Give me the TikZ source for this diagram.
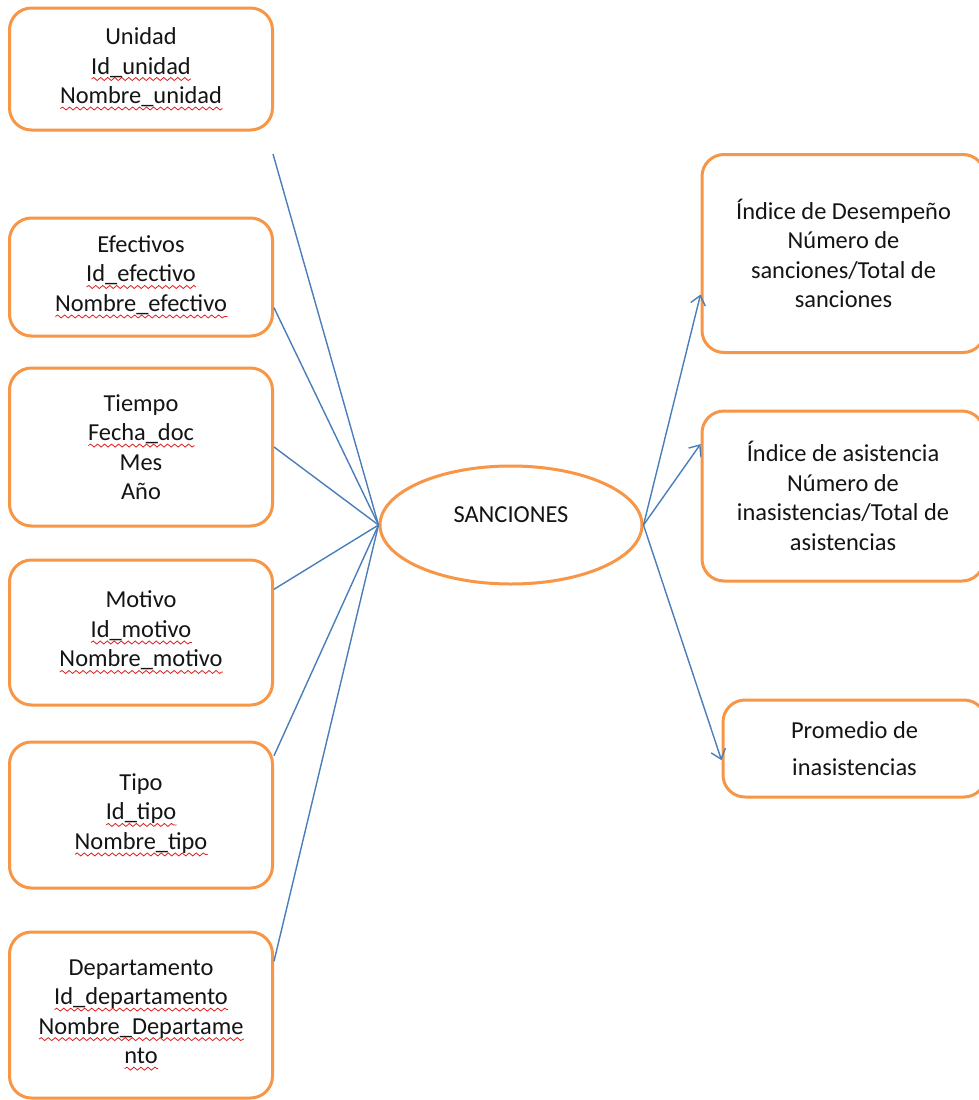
\documentclass[tikz,border=0pt]{standalone}
\usepackage{fontspec}
\setmainfont{Carlito}
\usetikzlibrary{shapes.geometric,arrows.meta,calc,decorations.pathmorphing}
\definecolor{borange}{HTML}{F79646}
\definecolor{lblue}{HTML}{4A7EBB}
\definecolor{sqred}{HTML}{E02020}
\newlength\sqw
\newcommand\sq[1]{\settowidth\sqw{#1}\rlap{\tikz[baseline=0pt]\draw[sqred,line width=0.8pt,sharp corners,decorate,decoration={snake,amplitude=1.5pt,segment length=7pt}] (0pt,-5pt) -- (\sqw,-5pt);}#1}
\begin{document}
\begin{tikzpicture}[x=1pt,y=-1pt,
  box/.style={draw=borange, line width=3pt, rounded corners=22pt, inner sep=0pt, align=center,
    font=\fontsize{24.4}{29.5}\selectfont, text=black!92},
  link/.style={draw=lblue, line width=1.4pt},
  arr/.style={link, -{Straight Barb[length=9pt,width=15pt]}}]
\useasboundingbox (0,0) rectangle (979,1100);
\clip (0,0) rectangle (979,1100);
\fill[white] (0,0) rectangle (979,1100);

% left boxes
\node[box, minimum width=263pt, minimum height=122pt] (un) at (141,69)
  {Unidad\\\sq{Id\_unidad}\\\sq{Nombre\_unidad}};
\node[box, minimum width=263pt, minimum height=118pt] (ef) at (141,277)
  {Efectivos\\\sq{Id\_efectivo}\\\sq{Nombre\_efectivo}};
\node[box, minimum width=263pt, minimum height=158pt] (ti) at (141,447)
  {Tiempo\\\sq{Fecha\_doc}\\Mes\\Año};
\node[box, minimum width=263pt, minimum height=145pt] (mo) at (141,632.5)
  {Motivo\\\sq{Id\_motivo}\\\sq{Nombre\_motivo}};
\node[box, minimum width=263pt, minimum height=146pt] (tp) at (141,815)
  {Tipo\\\sq{Id\_tipo}\\\sq{Nombre\_tipo}};
\node[box, minimum width=263pt, minimum height=166pt] (de) at (141,1015)
  {Departamento\\\sq{Id\_departamento}\\\sq{Nombre\_Departame}\\\sq{nto}};

% right boxes
\node[box, minimum width=283pt, minimum height=198pt] (d1) at (843.5,253.5)
  {Índice de Desempeño\\Número de\\sanciones/Total de\\sanciones};
\node[box, minimum width=282pt, minimum height=170pt] (d2) at (843,496)
  {Índice de asistencia\\Número de\\inasistencias/Total de\\asistencias};
\node[box, minimum width=263pt, minimum height=97pt, font=\fontsize{24.4}{37}\selectfont] (d3) at (854.5,748.5)
  {Promedio de\\inasistencias};

% central ellipse
\node[draw=borange, line width=3pt, ellipse, minimum width=262pt, minimum height=118pt, inner sep=0pt,
  text height=16pt, text depth=22pt, font=\fontsize{24.4}{29.5}\selectfont, text=black!92] (e) at (511,525) {SANCIONES};

% connectors
\coordinate (uf) at (273,154);
\draw[link] (uf) -- (e.west);
\draw[link] (ef.347) -- (e.west);
\draw[link] (ti.east) -- (e.west);
\draw[link] (mo.18) -- (e.west);
\draw[link] (tp.24) -- (e.west);
\draw[link] (de.22) -- (e.west);
\draw[arr] (e.east) -- (d1.196);
\draw[arr] (e.east) -- (d2.160);
\draw[arr] (e.east) -- (d3.185);
\end{tikzpicture}
\end{document}
